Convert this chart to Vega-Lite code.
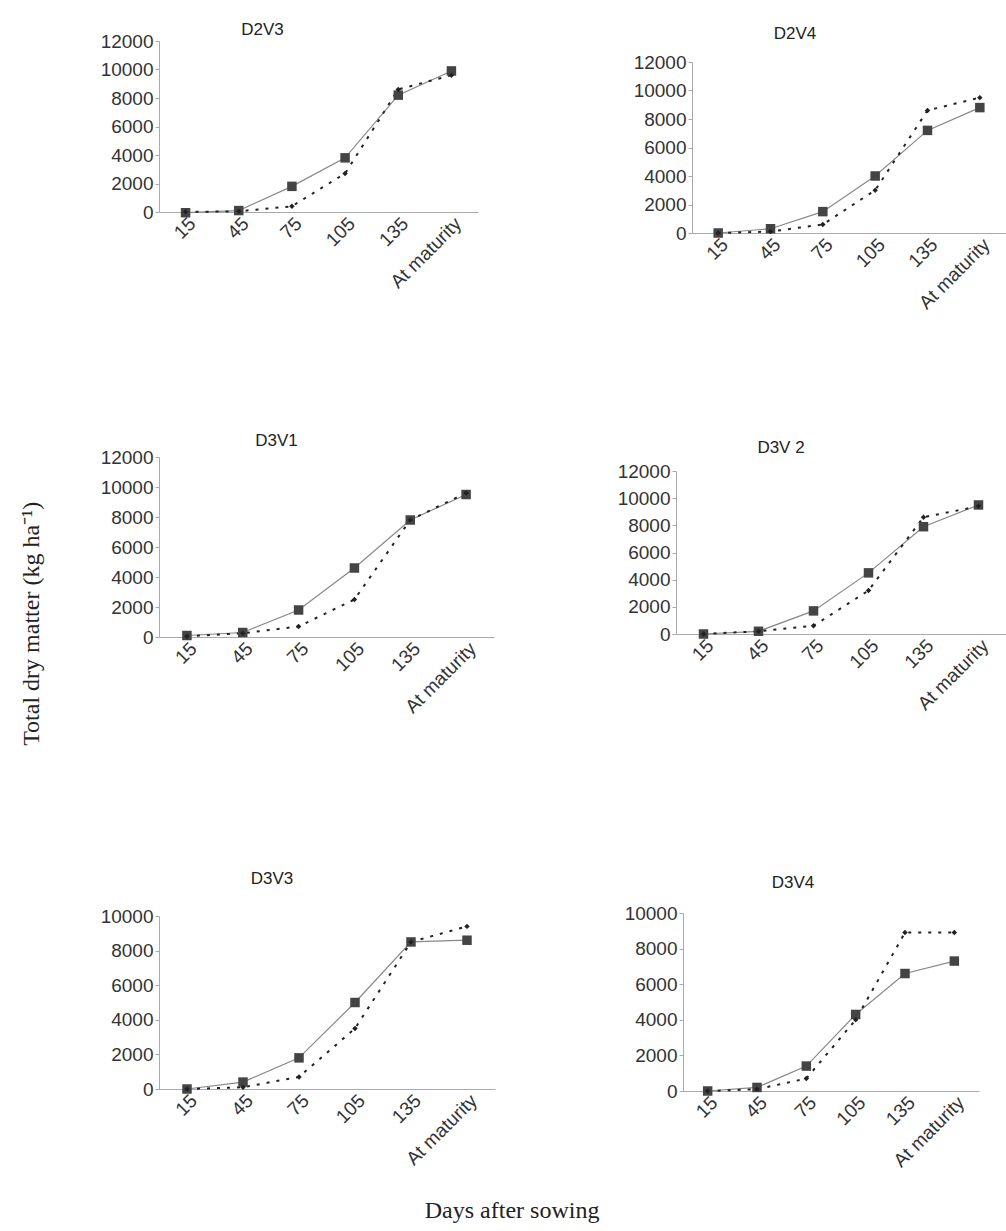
{
  "$schema": "https://vega.github.io/schema/vega-lite/v6.json",
  "background": "white",
  "padding": {"left": 20, "top": 21, "right": 0, "bottom": 0},
  "config": {
    "view": {"stroke": null},
    "axis": {"labelFont": "Liberation Sans", "labelFontSize": 19, "labelColor": "#333", "domainColor": "#aaa", "tickColor": "#aaa", "grid": false, "title": null},
    "title": {"font": "Liberation Sans", "fontSize": 17, "fontWeight": "normal", "color": "#222", "anchor": "middle"}
  },
  "data": {"values": [
    {"panel":"D2V3","day":"15","series":"A","value":-50},
    {"panel":"D2V3","day":"45","series":"A","value":100},
    {"panel":"D2V3","day":"75","series":"A","value":1800},
    {"panel":"D2V3","day":"105","series":"A","value":3800},
    {"panel":"D2V3","day":"135","series":"A","value":8200},
    {"panel":"D2V3","day":"At maturity","series":"A","value":9900},
    {"panel":"D2V3","day":"15","series":"B","value":0},
    {"panel":"D2V3","day":"45","series":"B","value":50},
    {"panel":"D2V3","day":"75","series":"B","value":400},
    {"panel":"D2V3","day":"105","series":"B","value":2700},
    {"panel":"D2V3","day":"135","series":"B","value":8600},
    {"panel":"D2V3","day":"At maturity","series":"B","value":9600},
    {"panel":"D2V4","day":"15","series":"A","value":0},
    {"panel":"D2V4","day":"45","series":"A","value":300},
    {"panel":"D2V4","day":"75","series":"A","value":1500},
    {"panel":"D2V4","day":"105","series":"A","value":4000},
    {"panel":"D2V4","day":"135","series":"A","value":7200},
    {"panel":"D2V4","day":"At maturity","series":"A","value":8800},
    {"panel":"D2V4","day":"15","series":"B","value":0},
    {"panel":"D2V4","day":"45","series":"B","value":100},
    {"panel":"D2V4","day":"75","series":"B","value":600},
    {"panel":"D2V4","day":"105","series":"B","value":3000},
    {"panel":"D2V4","day":"135","series":"B","value":8600},
    {"panel":"D2V4","day":"At maturity","series":"B","value":9500},
    {"panel":"D3V1","day":"15","series":"A","value":100},
    {"panel":"D3V1","day":"45","series":"A","value":300},
    {"panel":"D3V1","day":"75","series":"A","value":1800},
    {"panel":"D3V1","day":"105","series":"A","value":4600},
    {"panel":"D3V1","day":"135","series":"A","value":7800},
    {"panel":"D3V1","day":"At maturity","series":"A","value":9500},
    {"panel":"D3V1","day":"15","series":"B","value":50},
    {"panel":"D3V1","day":"45","series":"B","value":250},
    {"panel":"D3V1","day":"75","series":"B","value":700},
    {"panel":"D3V1","day":"105","series":"B","value":2500},
    {"panel":"D3V1","day":"135","series":"B","value":7800},
    {"panel":"D3V1","day":"At maturity","series":"B","value":9600},
    {"panel":"D3V2","day":"15","series":"A","value":0},
    {"panel":"D3V2","day":"45","series":"A","value":200},
    {"panel":"D3V2","day":"75","series":"A","value":1700},
    {"panel":"D3V2","day":"105","series":"A","value":4500},
    {"panel":"D3V2","day":"135","series":"A","value":7900},
    {"panel":"D3V2","day":"At maturity","series":"A","value":9500},
    {"panel":"D3V2","day":"15","series":"B","value":0},
    {"panel":"D3V2","day":"45","series":"B","value":200},
    {"panel":"D3V2","day":"75","series":"B","value":600},
    {"panel":"D3V2","day":"105","series":"B","value":3200},
    {"panel":"D3V2","day":"135","series":"B","value":8600},
    {"panel":"D3V2","day":"At maturity","series":"B","value":9400},
    {"panel":"D3V3","day":"15","series":"A","value":0},
    {"panel":"D3V3","day":"45","series":"A","value":400},
    {"panel":"D3V3","day":"75","series":"A","value":1800},
    {"panel":"D3V3","day":"105","series":"A","value":5000},
    {"panel":"D3V3","day":"135","series":"A","value":8500},
    {"panel":"D3V3","day":"At maturity","series":"A","value":8600},
    {"panel":"D3V3","day":"15","series":"B","value":0},
    {"panel":"D3V3","day":"45","series":"B","value":100},
    {"panel":"D3V3","day":"75","series":"B","value":700},
    {"panel":"D3V3","day":"105","series":"B","value":3500},
    {"panel":"D3V3","day":"135","series":"B","value":8500},
    {"panel":"D3V3","day":"At maturity","series":"B","value":9400},
    {"panel":"D3V4","day":"15","series":"A","value":0},
    {"panel":"D3V4","day":"45","series":"A","value":200},
    {"panel":"D3V4","day":"75","series":"A","value":1400},
    {"panel":"D3V4","day":"105","series":"A","value":4300},
    {"panel":"D3V4","day":"135","series":"A","value":6600},
    {"panel":"D3V4","day":"At maturity","series":"A","value":7300},
    {"panel":"D3V4","day":"15","series":"B","value":0},
    {"panel":"D3V4","day":"45","series":"B","value":100},
    {"panel":"D3V4","day":"75","series":"B","value":700},
    {"panel":"D3V4","day":"105","series":"B","value":4000},
    {"panel":"D3V4","day":"135","series":"B","value":8900},
    {"panel":"D3V4","day":"At maturity","series":"B","value":8900}
  ]},
  "title": {"text": "Days after sowing", "orient": "bottom", "anchor": "middle", "font": "Liberation Serif", "fontSize": 24, "color": "#222", "offset": 28, "dx": -1},
  "vconcat": [{
    "title": {"text": "Total dry matter (kg ha⁻¹)", "orient": "left", "anchor": "middle", "font": "Liberation Serif", "fontSize": 24, "color": "#222", "offset": 56, "dx": -28},
    "spacing": 153,
    "vconcat": [
      {"spacing": 119, "vconcat": [
      {"spacing": 155, "hconcat": [
        {"width": 319, "height": 171, "title": {"text": "D2V3", "dx": -56, "offset": -7},
         "transform": [{"filter": "datum.panel === 'D2V3'"}],
         "encoding": {"x": {"field": "day", "type": "ordinal", "sort": ["15","45","75","105","135","At maturity"], "scale": {"type": "point", "padding": 0.5}, "axis": {"labelAngle": -45, "ticks": false}},
                      "y": {"field": "value", "type": "quantitative", "scale": {"domain": [0, 12000], "nice": false}, "axis": {"values": [0,2000,4000,6000,8000,10000,12000], "format": "d", "tickSize": 4}}},
         "layer": [
          {"transform": [{"filter": "datum.series === 'A'"}], "mark": {"type": "line", "color": "#888", "strokeWidth": 1.2}},
          {"transform": [{"filter": "datum.series === 'B'"}], "mark": {"type": "line", "color": "#222", "strokeWidth": 2, "strokeDash": [3, 7]}},
          {"transform": [{"filter": "datum.series === 'A'"}], "mark": {"type": "point", "shape": "square", "filled": true, "color": "#444", "opacity": 1, "size": 90}},
          {"transform": [{"filter": "datum.series === 'B'"}], "mark": {"type": "point", "shape": "diamond", "filled": true, "color": "#222", "opacity": 1, "size": 30}}
         ]},
        {"width": 314, "height": 192, "title": {"text": "D2V4", "dx": -54, "offset": -2},
         "transform": [{"filter": "datum.panel === 'D2V4'"}],
         "encoding": {"x": {"field": "day", "type": "ordinal", "sort": ["15","45","75","105","135","At maturity"], "scale": {"type": "point", "padding": 0.5}, "axis": {"labelAngle": -45, "ticks": false}},
                      "y": {"field": "value", "type": "quantitative", "scale": {"domain": [0, 12000], "nice": false, "range": [192, 21]}, "axis": {"values": [0,2000,4000,6000,8000,10000,12000], "format": "d", "tickSize": 4}}},
         "layer": [
          {"transform": [{"filter": "datum.series === 'A'"}], "mark": {"type": "line", "color": "#888", "strokeWidth": 1.2}},
          {"transform": [{"filter": "datum.series === 'B'"}], "mark": {"type": "line", "color": "#222", "strokeWidth": 2, "strokeDash": [3, 7]}},
          {"transform": [{"filter": "datum.series === 'A'"}], "mark": {"type": "point", "shape": "square", "filled": true, "color": "#444", "opacity": 1, "size": 90}},
          {"transform": [{"filter": "datum.series === 'B'"}], "mark": {"type": "point", "shape": "diamond", "filled": true, "color": "#222", "opacity": 1, "size": 30}}
         ]}
      ]},
      {"spacing": 123, "hconcat": [
        {"width": 335, "height": 180, "title": {"text": "D3V1", "dx": -50, "offset": -2},
         "transform": [{"filter": "datum.panel === 'D3V1'"}],
         "encoding": {"x": {"field": "day", "type": "ordinal", "sort": ["15","45","75","105","135","At maturity"], "scale": {"type": "point", "padding": 0.5}, "axis": {"labelAngle": -45, "ticks": false}},
                      "y": {"field": "value", "type": "quantitative", "scale": {"domain": [0, 12000], "nice": false}, "axis": {"values": [0,2000,4000,6000,8000,10000,12000], "format": "d", "tickSize": 4}}},
         "layer": [
          {"transform": [{"filter": "datum.series === 'A'"}], "mark": {"type": "line", "color": "#888", "strokeWidth": 1.2}},
          {"transform": [{"filter": "datum.series === 'B'"}], "mark": {"type": "line", "color": "#222", "strokeWidth": 2, "strokeDash": [3, 7]}},
          {"transform": [{"filter": "datum.series === 'A'"}], "mark": {"type": "point", "shape": "square", "filled": true, "color": "#444", "opacity": 1, "size": 90}},
          {"transform": [{"filter": "datum.series === 'B'"}], "mark": {"type": "point", "shape": "diamond", "filled": true, "color": "#222", "opacity": 1, "size": 30}}
         ]},
        {"width": 330, "height": 177, "title": {"text": "D3V 2", "dx": -60, "offset": 0},
         "transform": [{"filter": "datum.panel === 'D3V2'"}],
         "encoding": {"x": {"field": "day", "type": "ordinal", "sort": ["15","45","75","105","135","At maturity"], "scale": {"type": "point", "padding": 0.5}, "axis": {"labelAngle": -45, "ticks": false}},
                      "y": {"field": "value", "type": "quantitative", "scale": {"domain": [0, 12000], "nice": false, "range": [177, 14]}, "axis": {"values": [0,2000,4000,6000,8000,10000,12000], "format": "d", "tickSize": 4}}},
         "layer": [
          {"transform": [{"filter": "datum.series === 'A'"}], "mark": {"type": "line", "color": "#888", "strokeWidth": 1.2}},
          {"transform": [{"filter": "datum.series === 'B'"}], "mark": {"type": "line", "color": "#222", "strokeWidth": 2, "strokeDash": [3, 7]}},
          {"transform": [{"filter": "datum.series === 'A'"}], "mark": {"type": "point", "shape": "square", "filled": true, "color": "#444", "opacity": 1, "size": 90}},
          {"transform": [{"filter": "datum.series === 'B'"}], "mark": {"type": "point", "shape": "diamond", "filled": true, "color": "#222", "opacity": 1, "size": 30}}
         ]}
      ]}
      ]},
      {"spacing": 129, "hconcat": [
        {"width": 336, "height": 176, "title": {"text": "D3V3", "dx": -55, "offset": 19},
         "transform": [{"filter": "datum.panel === 'D3V3'"}],
         "encoding": {"x": {"field": "day", "type": "ordinal", "sort": ["15","45","75","105","135","At maturity"], "scale": {"type": "point", "padding": 0.5}, "axis": {"labelAngle": -45, "ticks": false}},
                      "y": {"field": "value", "type": "quantitative", "scale": {"domain": [0, 10000], "nice": false, "range": [176, 3]}, "axis": {"values": [0,2000,4000,6000,8000,10000], "format": "d", "tickSize": 4}}},
         "layer": [
          {"transform": [{"filter": "datum.series === 'A'"}], "mark": {"type": "line", "color": "#888", "strokeWidth": 1.2}},
          {"transform": [{"filter": "datum.series === 'B'"}], "mark": {"type": "line", "color": "#222", "strokeWidth": 2, "strokeDash": [3, 7]}},
          {"transform": [{"filter": "datum.series === 'A'"}], "mark": {"type": "point", "shape": "square", "filled": true, "color": "#444", "opacity": 1, "size": 90}},
          {"transform": [{"filter": "datum.series === 'B'"}], "mark": {"type": "point", "shape": "diamond", "filled": true, "color": "#222", "opacity": 1, "size": 30}}
         ]},
        {"width": 296, "height": 178, "title": {"text": "D3V4", "dx": -38, "offset": 12},
         "transform": [{"filter": "datum.panel === 'D3V4'"}],
         "encoding": {"x": {"field": "day", "type": "ordinal", "sort": ["15","45","75","105","135","At maturity"], "scale": {"type": "point", "padding": 0.5}, "axis": {"labelAngle": -45, "ticks": false}},
                      "y": {"field": "value", "type": "quantitative", "scale": {"domain": [0, 10000], "nice": false}, "axis": {"values": [0,2000,4000,6000,8000,10000], "format": "d", "tickSize": 4}}},
         "layer": [
          {"transform": [{"filter": "datum.series === 'A'"}], "mark": {"type": "line", "color": "#888", "strokeWidth": 1.2}},
          {"transform": [{"filter": "datum.series === 'B'"}], "mark": {"type": "line", "color": "#222", "strokeWidth": 2, "strokeDash": [3, 7]}},
          {"transform": [{"filter": "datum.series === 'A'"}], "mark": {"type": "point", "shape": "square", "filled": true, "color": "#444", "opacity": 1, "size": 90}},
          {"transform": [{"filter": "datum.series === 'B'"}], "mark": {"type": "point", "shape": "diamond", "filled": true, "color": "#222", "opacity": 1, "size": 30}}
         ]}
      ]}
    ]
  }]
}
